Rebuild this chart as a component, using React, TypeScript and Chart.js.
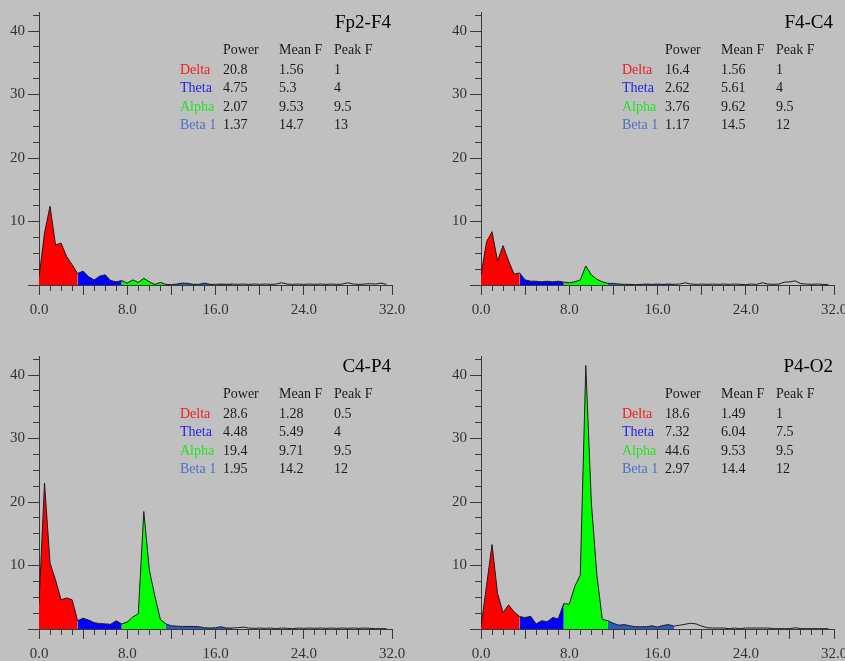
import React, { useEffect, useRef } from 'react';
import { Chart, registerables } from 'chart.js';

Chart.register(...registerables);

// ---------- data ----------
const freqs = [
  0, 0.5, 1, 1.5, 2, 2.5, 3, 3.5, 4, 4.5, 5, 5.5, 6, 6.5, 7, 7.5,
  8, 8.5, 9, 9.5, 10, 10.5, 11, 11.5, 12, 12.5, 13, 13.5, 14, 14.5, 15, 15.5,
  16, 16.5, 17, 17.5, 18, 18.5, 19, 19.5, 20, 20.5, 21, 21.5, 22, 22.5, 23, 23.5,
  24, 24.5, 25, 25.5, 26, 26.5, 27, 27.5, 28, 28.5, 29, 29.5, 30, 30.5, 31, 31.5,
];

const channelNames = ['Fp2-F4', 'F4-C4', 'C4-P4', 'P4-O2'];
const bandNames = ['Delta', 'Theta', 'Alpha', 'Beta 1'];
const bandEdges = [0, 3.5, 7.5, 11.5, 17.5];
const tableHeaders = ['Power', 'Mean F', 'Peak F'];
const xTickValues = [0, 8, 16, 24, 32];
const yTickValues = [10, 20, 30, 40];

const fp2f4 = [
  1.2, 8.2, 12.4, 6.3, 6.6, 4.5, 3.2, 1.8, 2.2, 1.3, 0.8, 1.4, 1.6, 0.7, 0.5, 0.7,
  0.3, 0.8, 0.4, 1.05, 0.5, 0.1, 0.4, 0.1, 0.05, 0.15, 0.3, 0.25, 0.1, 0.1, 0.3, 0.1,
  0.1, 0.15, 0.1, 0.15, 0.1, 0.15, 0.1, 0.15, 0.1, 0.15, 0.1, 0.15, 0.35, 0.15, 0.1, 0.15,
  0.1, 0.15, 0.1, 0.15, 0.1, 0.15, 0.1, 0.15, 0.35, 0.15, 0.1, 0.15, 0.2, 0.15, 0.3, 0.1,
];
const f4c4 = [
  1.5, 6.8, 8.4, 3.8, 6.2, 3.8, 1.7, 1.9, 0.8, 0.6, 0.6, 0.5, 0.6, 0.5, 0.6, 0.45,
  0.35, 0.5, 0.8, 3.0, 1.6, 0.9, 0.5, 0.25, 0.25, 0.15, 0.1, 0.1, 0.05, 0.1, 0.15, 0.1,
  0.15, 0.1, 0.15, 0.1, 0.15, 0.35, 0.15, 0.1, 0.15, 0.1, 0.15, 0.1, 0.15, 0.1, 0.15, 0.1,
  0.05, 0.15, 0.1, 0.35, 0.15, 0.1, 0.15, 0.45, 0.5, 0.65, 0.2, 0.15, 0.1, 0.15, 0.1, 0.05,
];
const c4p4 = [
  4.0, 23.0, 10.4, 7.7, 4.6, 4.9, 4.6, 1.3, 1.7, 1.4, 1.0, 0.85, 0.8, 0.75, 1.3, 0.8,
  1.1, 1.9, 2.4, 18.5, 9.3, 5.2, 1.5, 0.8, 0.5, 0.45, 0.4, 0.4, 0.4, 0.35, 0.2, 0.15,
  0.2, 0.35, 0.15, 0.15, 0.2, 0.3, 0.15, 0.1, 0.15, 0.1, 0.15, 0.05, 0.15, 0.1, 0.05, 0.15,
  0.1, 0.15, 0.1, 0.15, 0.1, 0.15, 0.1, 0.15, 0.1, 0.15, 0.1, 0.15, 0.1, 0.05, 0.05, 0.05,
];
const p4o2 = [
  0.3, 6.8, 13.3, 5.6, 2.6, 3.8, 2.7, 1.95, 1.8, 2.0, 0.8, 1.3, 1.15, 1.8, 1.6, 4.0,
  3.9, 6.7, 8.5, 41.5, 20.0, 8.5, 1.5, 1.3, 0.9, 0.6, 0.7, 0.5, 0.35, 0.35, 0.35, 0.5,
  0.3, 0.55, 0.7, 0.45, 0.6, 0.75, 0.9, 0.8, 0.45, 0.2, 0.15, 0.15, 0.15, 0.05, 0.15, 0.05,
  0.15, 0.15, 0.15, 0.15, 0.15, 0.05, 0.05, 0.05, 0.05, 0.2, 0.05, 0.05, 0.05, 0.05, 0.05, 0.05,
];

const fp2f4Stats = [['20.8', '1.56', '1'], ['4.75', '5.3', '4'], ['2.07', '9.53', '9.5'], ['1.37', '14.7', '13']];
const f4c4Stats = [['16.4', '1.56', '1'], ['2.62', '5.61', '4'], ['3.76', '9.62', '9.5'], ['1.17', '14.5', '12']];
const c4p4Stats = [['28.6', '1.28', '0.5'], ['4.48', '5.49', '4'], ['19.4', '9.71', '9.5'], ['1.95', '14.2', '12']];
const p4o2Stats = [['18.6', '1.49', '1'], ['7.32', '6.04', '7.5'], ['44.6', '9.53', '9.5'], ['2.97', '14.4', '12']];

const channelValues = [fp2f4, f4c4, c4p4, p4o2];
const channelStats = [fp2f4Stats, f4c4Stats, c4p4Stats, p4o2Stats];

// ---------- styles / layout ----------
const BG = '#c0c0c0';
const AXIS = '#3a3a3a';
const FONT = '"Liberation Serif", "Times New Roman", serif';
const bandFill = ['#ff0000', '#0000ff', '#00ff00', '#2d5cbf'];
const bandText = ['#f01e1e', '#1e1ee6', '#1ee61e', '#4a72c8'];
const Y_MAX = 43;
const PLOT_W = 353;
const PLOT_H = 273;
const X_AXIS_H = 32;

const panelLayout = [
  { left: 0, top: 0, width: 420, height: 330, plotLeft: 39, plotBottom: 285 },
  { left: 420, top: 0, width: 425, height: 330, plotLeft: 61, plotBottom: 285 },
  { left: 0, top: 330, width: 420, height: 331, plotLeft: 39, plotBottom: 299 },
  { left: 420, top: 330, width: 425, height: 331, plotLeft: 61, plotBottom: 299 },
];

const textPlugin = {
  id: 'panelText',
  afterDraw(chart: any) {
    const o = chart.options.plugins.panelText;
    const { left, bottom } = chart.chartArea;
    const ctx = chart.ctx;
    ctx.save();
    ctx.textBaseline = 'middle';
    ctx.textAlign = 'right';
    ctx.fillStyle = '#000';
    ctx.font = `19px ${FONT}`;
    ctx.fillText(o.title, left + 352, bottom - 262);
    ctx.textAlign = 'left';
    ctx.font = `14px ${FONT}`;
    const cols = [184, 240, 295];
    ctx.fillStyle = '#1a1a1a';
    tableHeaders.forEach((h, i) => ctx.fillText(h, left + cols[i], bottom - 235));
    const rowsY = [-214.5, -196.3, -178, -159.7];
    bandNames.forEach((b, r) => {
      ctx.fillStyle = bandText[r];
      ctx.fillText(b, left + 141, bottom + rowsY[r]);
      ctx.fillStyle = '#1a1a1a';
      o.stats[r].forEach((v: string, i: number) => ctx.fillText(v, left + cols[i], bottom + rowsY[r]));
    });
    ctx.restore();
  },
};

function Panel({ index }: { index: number }) {
  const ref = useRef<HTMLCanvasElement | null>(null);
  const lay = panelLayout[index];
  useEffect(() => {
    const values = channelValues[index];
    const pts = freqs.map((f, i) => ({ x: f, y: values[i] }));
    const bands = bandNames.map((name, b) => ({
      label: name,
      data: pts.filter((p) => p.x >= bandEdges[b] && p.x <= bandEdges[b + 1]),
      backgroundColor: bandFill[b],
      borderColor: 'rgba(0,0,0,0)',
      borderWidth: 1,
      pointRadius: 0,
      fill: 'origin',
      tension: 0,
      order: 1,
    }));
    const chart = new Chart(ref.current as HTMLCanvasElement, {
      type: 'line',
      data: {
        datasets: [
          {
            label: 'spectrum',
            data: pts,
            borderColor: '#1c1c1c',
            borderWidth: 1,
            pointRadius: 0,
            fill: false,
            tension: 0,
            order: 0,
          },
          ...bands,
        ] as any,
      },
      options: {
        animation: false,
        responsive: false,
        devicePixelRatio: 1,
        events: [],
        layout: {
          autoPadding: false,
          padding: {
            left: 0,
            top: lay.plotBottom - PLOT_H,
            right: lay.width - lay.plotLeft - PLOT_W,
            bottom: lay.height - lay.plotBottom - X_AXIS_H,
          },
        },
        plugins: {
          legend: { display: false },
          tooltip: { enabled: false },
          panelText: { title: channelNames[index], stats: channelStats[index] },
        } as any,
        scales: {
          x: {
            type: 'linear',
            min: 0,
            max: 32,
            afterFit: (s: any) => {
              s.height = X_AXIS_H;
              s.paddingLeft = 0;
              s.paddingRight = 0;
            },
            ticks: {
              stepSize: 1,
              autoSkip: false,
              maxRotation: 0,
              minRotation: 0,
              padding: 6,
              color: '#333',
              font: { family: FONT, size: 15 },
              callback: (v: any) => (xTickValues.includes(Number(v)) ? Number(v).toFixed(1) : ''),
            },
            grid: {
              drawOnChartArea: false,
              tickLength: 10,
              color: AXIS,
              tickColor: AXIS,
              tickBorderDash: (c: any) => (c.tick && c.tick.value % 4 === 0 ? [] : [5, 20]),
            } as any,
            border: { display: true, color: AXIS, width: 1 },
          },
          y: {
            type: 'linear',
            min: 0,
            max: Y_MAX,
            afterFit: (s: any) => {
              s.width = lay.plotLeft;
              s.paddingTop = 0;
              s.paddingBottom = 0;
            },
            ticks: {
              stepSize: 2.5,
              includeBounds: false,
              autoSkip: false,
              padding: 3,
              color: '#333',
              font: { family: FONT, size: 15 },
              callback: (v: any) => (yTickValues.includes(Number(v)) ? String(v) : ''),
            },
            grid: {
              drawOnChartArea: false,
              tickLength: 11,
              color: AXIS,
              tickColor: AXIS,
              tickBorderDash: (c: any) => (c.tick && c.tick.value % 10 === 0 ? [] : [0, 5, 6, 20]),
            } as any,
            border: { display: true, color: AXIS, width: 1 },
          },
        },
      } as any,
      plugins: [textPlugin],
    });
    return () => chart.destroy();
  }, [index]);
  return (
    <canvas
      ref={ref}
      width={lay.width}
      height={lay.height}
      style={{ position: 'absolute', left: lay.left, top: lay.top, width: lay.width, height: lay.height }}
    />
  );
}

export default function App() {
  useEffect(() => {
    document.body.style.background = BG;
  }, []);
  return (
    <div style={{ position: 'fixed', left: 0, top: 0, width: 845, height: 661, background: BG, overflow: 'hidden' }}>
      {channelNames.map((_, i) => (
        <Panel key={i} index={i} />
      ))}
    </div>
  );
}
